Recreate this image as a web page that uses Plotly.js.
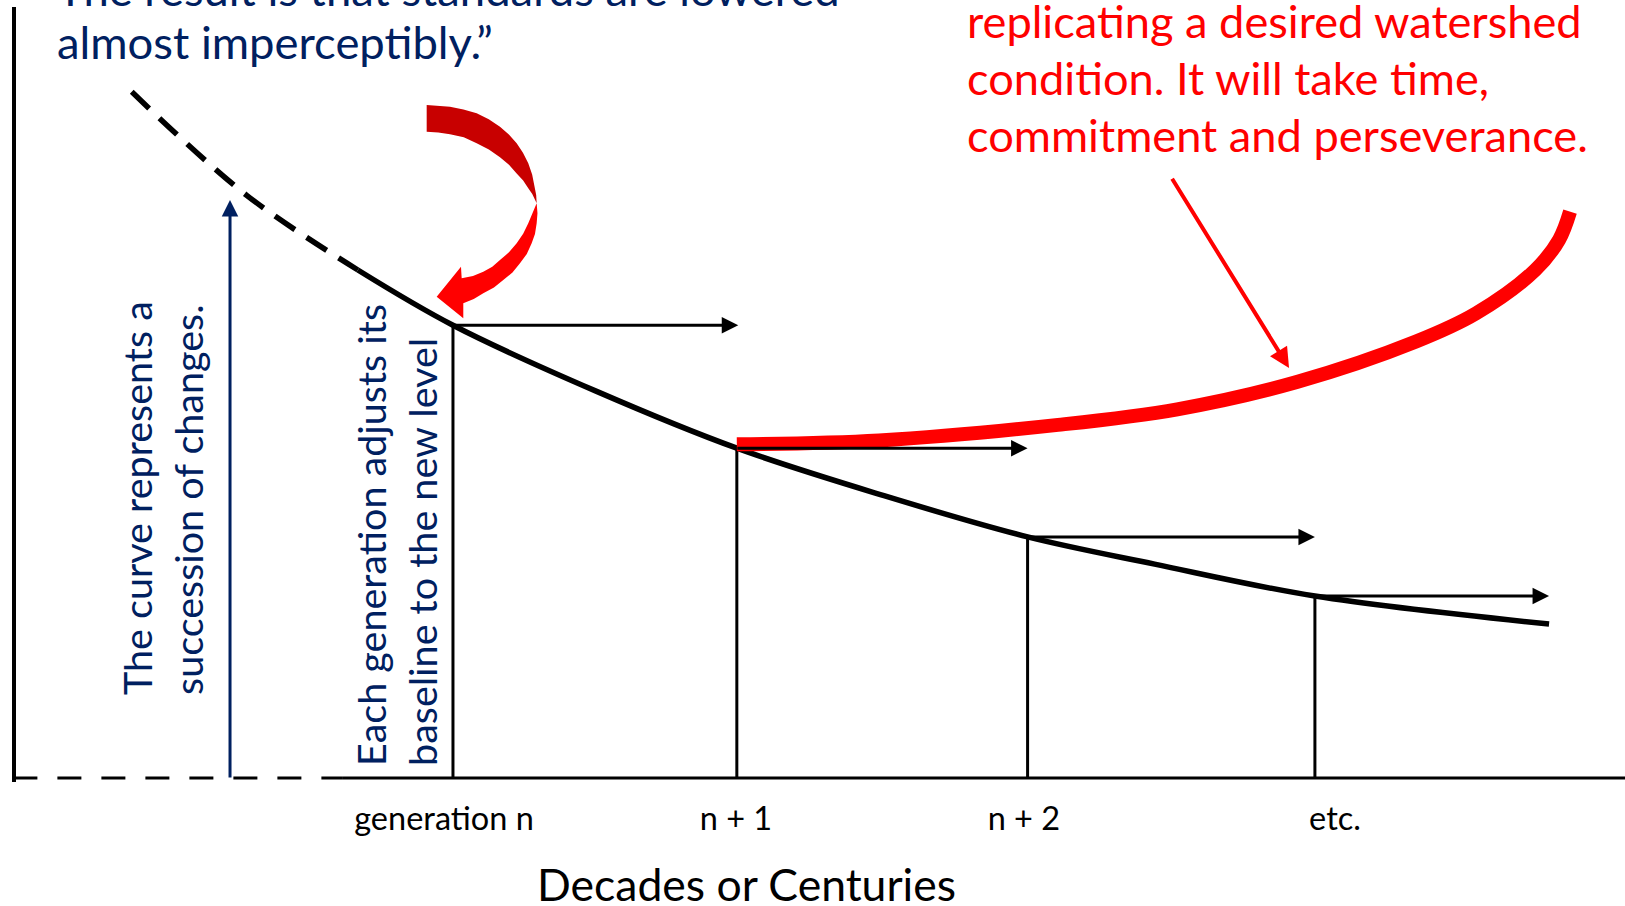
<!DOCTYPE html>
<html><head><meta charset="utf-8">
<script src="https://cdn.plot.ly/plotly-3.0.1.min.js"></script>
<style>html,body{margin:0;padding:0;background:#fff;overflow:hidden}#chart{width:1625px;height:906px;}</style>
</head><body><div id="chart"></div>
<script>
// ---- data ----
const genLabels = ['generation n', 'n + 1', 'n + 2', 'etc.'];
const genX = [1, 1.988, 3, 4];
const labelX = [0.969, 1.985, 2.987, 4.07];
const genLevel = [58.2, 42.4, 31.0, 23.4];
const arrowEndX = [1.993, 3.0, 4.0, 4.815];

const pastX = [-0.118, 0.282, 0.669];
const pastY = [88.2, 74.9, 65.3];
const curveX = [0.669, 1.0, 1.5, 1.988, 2.5, 3.0, 3.442, 4.0, 4.815];
const curveY = [65.3, 58.2, 49.7, 42.4, 36.3, 31.0, 27.5, 23.4, 19.8];

const restoreX = [1.988, 2.483, 3.106, 3.521, 3.937, 4.352, 4.560, 4.767, 4.850, 4.888];
const restoreY = [42.9, 43.4, 45.4, 47.4, 50.9, 56.1, 59.7, 65.3, 69.2, 72.8];

const baseDashX = [-0.53, 0.614];
const baseSolidX = [0.614, 5.1];

const changeArrowX = 0.224, changeArrowTop = 74.3;
const pointerFrom = [3.502, 77.1], pointerTo = [3.910, 52.7];

// curved arrow: back (dark) and front (bright) parts
const backX = [0.9085, 0.9488, 0.9896, 1.0365, 1.0825, 1.1246, 1.1636, 1.1946, 1.2217, 1.2436, 1.2621, 1.2756, 1.2854, 1.2896, 1.2913, 1.2760, 1.2621, 1.2443, 1.2217, 1.1949, 1.1636, 1.1249, 1.0825, 1.0376, 0.9896, 0.9488, 0.9085];
const backY = [86.50, 86.44, 86.29, 85.94, 85.44, 84.67, 83.71, 82.71, 81.58, 80.36, 79.01, 77.56, 76.00, 74.95, 73.87, 75.08, 75.80, 76.80, 77.70, 78.82, 79.80, 80.78, 81.60, 82.35, 82.75, 82.97, 83.07];
const frontX = [1.2913, 1.2941, 1.2913, 1.2854, 1.2739, 1.2569, 1.2332, 1.2071, 1.1750, 1.1427, 1.1055, 1.0724, 1.0359, 1.0359, 0.9433, 1.0279, 1.0303, 1.0696, 1.1055, 1.1368, 1.1636, 1.1949, 1.2217, 1.2443, 1.2621, 1.2763, 1.2854];
const frontY = [73.87, 72.58, 71.30, 69.92, 68.73, 67.35, 66.16, 64.97, 64.01, 63.05, 62.30, 61.57, 61.02, 59.09, 61.86, 65.72, 64.23, 64.52, 65.08, 65.73, 66.58, 67.57, 68.73, 69.95, 71.30, 72.44, 73.35];

// text lines
const quoteLines = ['The result is that standards are lowered', 'almost imperceptibly.\u201D'];
const quoteLineY = [97.65, 90.85];
const actionLines = ['replicating a desired watershed', 'condition. It will take time,', 'commitment and perseverance.'];
const actionLineY = [93.58, 86.25, 78.94];

const NAVY = '#002060', RED = '#FF0000', DARKRED = '#C80000';
const FONT = 'Lato, "Open Sans", sans-serif';

// vertical generation lines
const vx = [], vy = [];
genX.forEach((g, i) => { vx.push(g, g, null); vy.push(0, genLevel[i], null); });

const traces = [
  {x: baseDashX, y: [0, 0], mode: 'lines', line: {color: '#000', width: 3, dash: '24px,20px'}},
  {x: baseSolidX, y: [0, 0], mode: 'lines', line: {color: '#000', width: 3}},
  {x: vx, y: vy, mode: 'lines', line: {color: '#000', width: 3}},
  {x: pastX, y: pastY, mode: 'lines', line: {color: '#000', width: 5.5, dash: '24px,14px', shape: 'spline'}},
  {x: curveX, y: curveY, mode: 'lines', line: {color: '#000', width: 5.5, shape: 'spline'}},
  {x: restoreX, y: restoreY, mode: 'lines', line: {color: RED, width: 14, shape: 'spline'}},
  {x: backX, y: backY, mode: 'lines', fill: 'toself', fillcolor: DARKRED, line: {width: 0, color: DARKRED}},
  {x: frontX, y: frontY, mode: 'lines', fill: 'toself', fillcolor: RED, line: {width: 0, color: RED}}
];

const ann = [];
genX.forEach((g, i) => {
  ann.push({x: arrowEndX[i], y: genLevel[i], ax: g, ay: genLevel[i], xref: 'x', yref: 'y', axref: 'x', ayref: 'y',
    text: '', showarrow: true, arrowhead: 2, arrowsize: 1.1, arrowwidth: 3, arrowcolor: '#000', borderpad: 0});
});
ann.push({x: changeArrowX, y: changeArrowTop, ax: changeArrowX, ay: 0, xref: 'x', yref: 'y', axref: 'x', ayref: 'y',
  text: '', showarrow: true, arrowhead: 2, arrowsize: 1.1, arrowwidth: 3, arrowcolor: NAVY, borderpad: 0});
ann.push({x: pointerTo[0], y: pointerTo[1], ax: pointerFrom[0], ay: pointerFrom[1], xref: 'x', yref: 'y', axref: 'x', ayref: 'y',
  text: '', showarrow: true, arrowhead: 2, arrowsize: 1, arrowwidth: 4, arrowcolor: RED, borderpad: 0});

quoteLines.forEach((t, i) => ann.push({x: -0.3837, y: quoteLineY[i], xref: 'x', yref: 'y', xanchor: 'left', yanchor: 'bottom',
  align: 'left', showarrow: false, text: t, font: {family: FONT, size: 45.4, color: NAVY}}));
actionLines.forEach((t, i) => ann.push({x: 2.781, y: actionLineY[i], xref: 'x', yref: 'y', xanchor: 'left', yanchor: 'bottom',
  align: 'left', showarrow: false, text: t, font: {family: FONT, size: 45.2, color: RED}}));

ann.push({x: -0.0128, y: 36.0, xref: 'x', yref: 'y', xanchor: 'center', yanchor: 'middle', align: 'left', textangle: -90, showarrow: false,
  text: 'The curve represents a<br>succession of changes.', font: {family: FONT, size: 39.5, color: NAVY}});
ann.push({x: 0.8016, y: 31.25, xref: 'x', yref: 'y', xanchor: 'center', yanchor: 'middle', align: 'left', textangle: -90, showarrow: false,
  text: 'Each generation adjusts its<br>baseline to the new level', font: {family: FONT, size: 39.5, color: NAVY}});
ann.push({x: 2.023, y: -0.131, xref: 'x', yref: 'paper', xanchor: 'center', yanchor: 'middle', showarrow: false,
  text: 'Decades or Centuries', font: {family: FONT, size: 44.5, color: '#000'}});

const layout = {
  width: 1625, height: 906,
  margin: {l: 16, r: 0, t: 7, b: 124, pad: 0},
  paper_bgcolor: '#fff', plot_bgcolor: '#fff',
  showlegend: false, hovermode: false,
  xaxis: {range: [-0.5209, 5.0793], showgrid: false, zeroline: false, showline: false, ticks: '',
    tickmode: 'array', tickvals: labelX, ticktext: genLabels, ticklabelstandoff: 14,
    tickfont: {family: FONT, size: 32.5, color: '#000'}},
  yaxis: {range: [-0.5, 99.1], showgrid: false, zeroline: false, showline: true, linecolor: '#000', linewidth: 4,
    ticks: '', showticklabels: false},
  annotations: ann
};

Plotly.newPlot('chart', traces, layout, {staticPlot: true, displayModeBar: false});
</script></body></html>
